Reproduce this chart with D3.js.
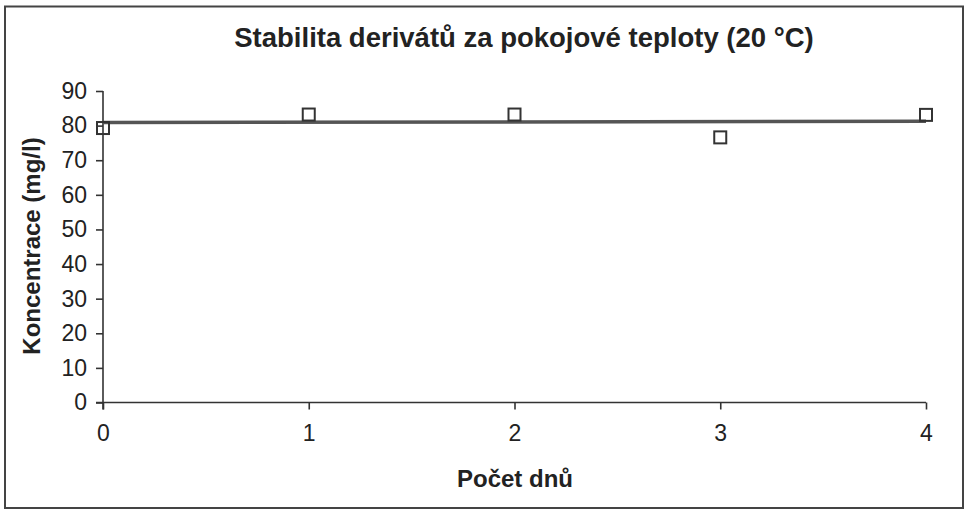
<!DOCTYPE html>
<html>
<head>
<meta charset="utf-8">
<script src="https://cdn.jsdelivr.net/npm/d3@7"></script>
<style>
  body { margin: 0; background: #fff; }
  svg { font-family: "Liberation Sans", Arial, sans-serif; }
</style>
</head>
<body>
<svg width="972" height="515"></svg>
<script>
// dny a namerene koncentrace
var days = [0, 1, 2, 3, 4]
var conc = [79.3, 83.2, 83.2, 76.6, 83.1]
var yTicks = [0, 10, 20, 30, 40, 50, 60, 70, 80, 90]
var xTicks = [0, 1, 2, 3, 4]

var svg = d3.select("svg")

var scX = d3.scaleLinear().domain([0, 4]).range([103, 926]),
    scY = d3.scaleLinear().domain([0, 90]).range([402.5, 91])

// ramecek
svg.append("rect").attr("x", 5).attr("y", 6.5).attr("width", 958).attr("height", 501.5)
    .attr("fill", "none").attr("stroke", "#444").attr("stroke-width", 2)

// titulek
svg.append("text").attr("x", 524).attr("y", 47).attr("text-anchor", "middle")
    .attr("font-size", 27.5).attr("font-weight", "bold").attr("fill", "#222")
    .text("Stabilita derivátů za pokojové teploty (20 °C)")

// osy
var yAxis = svg.append("g").attr("transform", "translate(103,0)")
    .call(d3.axisLeft(scY).tickValues(yTicks).tickSize(7).tickPadding(9).tickSizeOuter(0))
var xAxis = svg.append("g").attr("transform", "translate(0,402.5)")
    .call(d3.axisBottom(scX).tickValues(xTicks).tickFormat(d3.format("d"))
        .tickSize(7).tickPadding(15).tickSizeOuter(0))

svg.selectAll(".domain, .tick line").attr("stroke", "#333").attr("stroke-width", 1.6)
svg.selectAll(".tick text").attr("font-size", 23).attr("fill", "#222")
    .attr("font-family", "Liberation Sans, Arial, sans-serif")

// osa y saha pod nulu, osa x doleva
yAxis.select(".domain").attr("d", "M0,91V409.5")
xAxis.select(".domain").attr("d", "M96,0H926")

// popisky os
svg.append("text").attr("x", 515).attr("y", 487).attr("text-anchor", "middle")
    .attr("font-size", 24).attr("font-weight", "bold").attr("fill", "#222")
    .text("Počet dnů")
svg.append("text").attr("transform", "translate(40,246) rotate(-90)")
    .attr("text-anchor", "middle")
    .attr("font-size", 24).attr("font-weight", "bold").attr("fill", "#222")
    .text("Koncentrace (mg/l)")

// linearni trend
var mx = d3.mean(days), my = d3.mean(conc)
var slope = d3.sum(days, (d, i) => (d - mx) * (conc[i] - my)) / d3.sum(days, d => (d - mx) * (d - mx))
var icpt = my - slope * mx
svg.append("line")
    .attr("x1", scX(0)).attr("y1", scY(icpt))
    .attr("x2", scX(4)).attr("y2", scY(icpt + slope * 4))
    .attr("stroke", "#555").attr("stroke-width", 3.5)

// body
svg.selectAll("rect.pt").data(days).enter().append("rect").attr("class", "pt")
    .attr("x", d => scX(d) - 6).attr("y", (d, i) => scY(conc[i]) - 6)
    .attr("width", 12).attr("height", 12)
    .attr("fill", "none").attr("stroke", "#333").attr("stroke-width", 2)
</script>
</body>
</html>
